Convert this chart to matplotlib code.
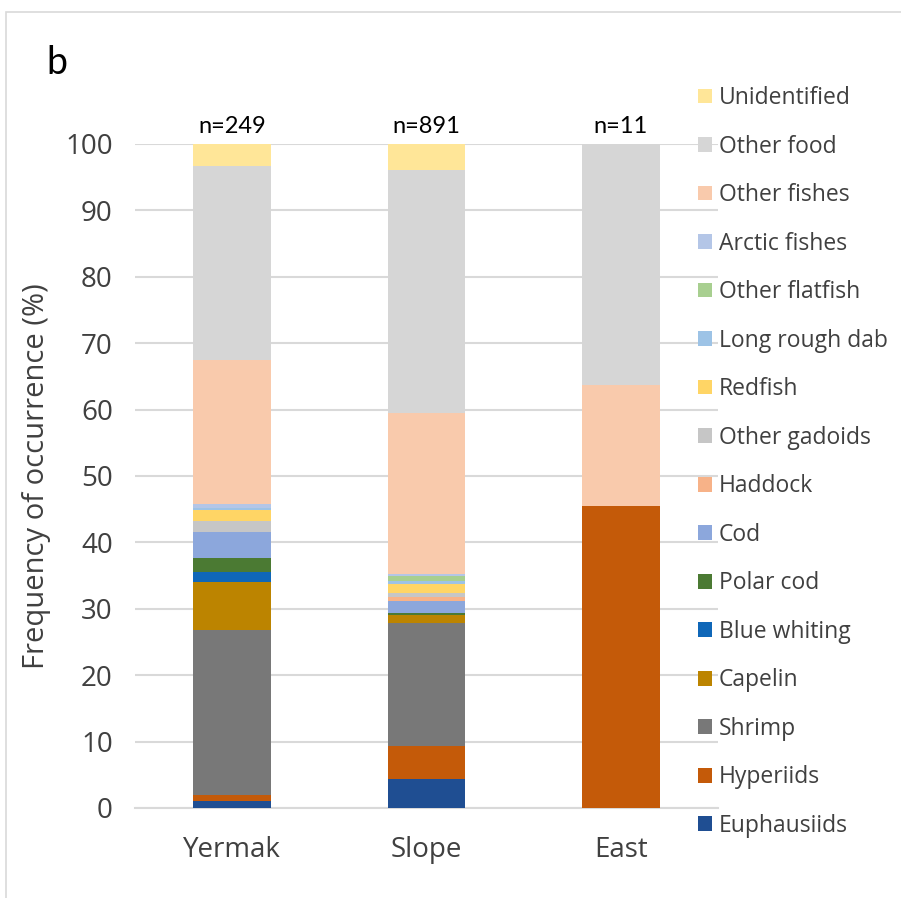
import matplotlib
matplotlib.use("Agg")
import matplotlib.pyplot as plt
from matplotlib.patches import Rectangle, Patch
import numpy as np

sites = ["Yermak", "Slope", "East"]
n_labels = ["n=249", "n=891", "n=11"]

prey = ["Euphausiids", "Hyperiids", "Shrimp", "Capelin", "Blue whiting", "Polar cod",
        "Cod", "Haddock", "Other gadoids", "Redfish", "Long rough dab", "Other flatfish",
        "Arctic fishes", "Other fishes", "Other food", "Unidentified"]

euphausiids   = [1.0, 4.4, 0.0]
hyperiids     = [0.9, 5.0, 45.45]
shrimp        = [24.95, 18.4, 0.0]
capelin       = [7.2, 1.3, 0.0]
blue_whiting  = [1.5, 0.0, 0.0]
polar_cod     = [2.1, 0.25, 0.0]
cod           = [3.9, 1.75, 0.0]
haddock       = [0.0, 0.75, 0.0]
other_gadoids = [1.7, 0.6, 0.0]
redfish       = [1.6, 1.3, 0.0]
long_rough_dab = [0.3, 0.5, 0.0]
other_flatfish = [0.0, 0.7, 0.0]
arctic_fishes = [0.6, 0.3, 0.0]
other_fishes  = [21.7, 24.2, 18.18]
other_food    = [29.2, 36.7, 36.37]
unidentified  = [3.35, 3.95, 0.0]

series = [euphausiids, hyperiids, shrimp, capelin, blue_whiting, polar_cod, cod, haddock,
          other_gadoids, redfish, long_rough_dab, other_flatfish, arctic_fishes,
          other_fishes, other_food, unidentified]

colors = ["#1F4E92", "#C45A09", "#787878", "#BC8400", "#0F67B8", "#4B7A33",
          "#8CA7DC", "#F7B288", "#C6C6C6", "#FFD565", "#9DC3E6", "#A8CF90",
          "#B4C6E7", "#F9CAAC", "#D6D6D6", "#FFE698"]

fig = plt.figure(figsize=(9.01, 8.98), dpi=100)
ax = fig.add_axes([135/901, 90/898, 583/901, 664/898])

x = np.arange(len(sites))
bottom = np.zeros(len(sites))
for vals, c, lab in zip(series, colors, prey):
    ax.bar(x, vals, width=0.4, bottom=bottom, color=c, label=lab, zorder=3, linewidth=0)
    bottom += np.array(vals)

ax.set_xlim(-0.5, 2.5)
ax.set_ylim(0, 100)
ax.set_yticks(np.arange(0, 101, 10))
ax.set_xticks(x)
ax.set_xticklabels(sites, fontsize=20, family="Open Sans", color="#404040")
ax.tick_params(axis="y", labelsize=20, colors="#404040", length=0, pad=16)
ax.tick_params(axis="x", length=0, pad=20)
for lab in ax.get_yticklabels():
    lab.set_family("Open Sans")
ax.yaxis.grid(True, color="#D9D9D9", linewidth=1.5, zorder=0)
for s in ["top", "right", "left"]:
    ax.spines[s].set_visible(False)
ax.spines["bottom"].set_color("#D9D9D9")
ax.spines["bottom"].set_linewidth(1.5)
ax.set_ylabel("Frequency of occurrence (%)", fontsize=21, family="Open Sans", color="#404040", labelpad=10)

for xi, t in zip(x, n_labels):
    ax.text(xi, 101.1, t, ha="center", va="bottom", fontsize=17, family="Lato", color="black")

handles = [Patch(facecolor=c, edgecolor="none") for c in colors][::-1]
labels = prey[::-1]
leg = fig.legend(handles, labels, loc="upper left", bbox_to_anchor=(698/901, 1 - 86/898),
                 frameon=False, fontsize=16.5, handlelength=0.62, handleheight=0.62,
                 handletextpad=0.3, labelspacing=1.07, borderaxespad=0, borderpad=0)
for t in leg.get_texts():
    t.set_family("Open Sans")
    t.set_color("#404040")

fig.text(46/901, 1 - 63/898, "b", fontsize=27, family="Lato", va="center", ha="left")

fig.patches.append(Rectangle((6/901, -0.01), 1.0, (898 - 12)/898 + 0.01, transform=fig.transFigure,
                             fill=False, edgecolor="#D9D9D9", linewidth=1.2))

fig.savefig("out.png", dpi=100)
